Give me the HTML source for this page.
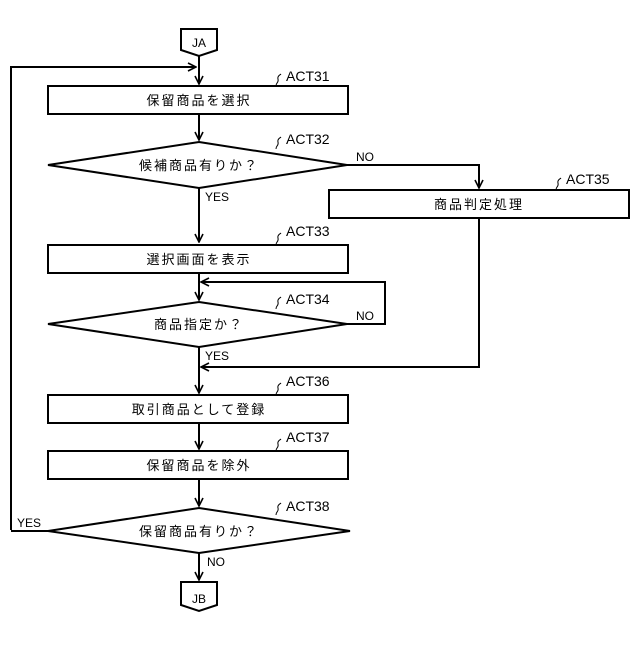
<!DOCTYPE html>
<html><head><meta charset="utf-8"><style>
html,body{margin:0;padding:0;background:#fff}
svg text{font-family:"Liberation Sans","Noto Sans CJK JP",sans-serif;fill:#000}
.j{font-size:13px;letter-spacing:2px}
.a{font-size:14px}
.s{font-size:12px}
</style></head><body>
<svg width="640" height="640" viewBox="0 0 640 640" xmlns="http://www.w3.org/2000/svg">
<defs><marker id="ar" markerWidth="10" markerHeight="10" refX="9" refY="5" orient="auto" markerUnits="userSpaceOnUse"><path d="M1,1 L9,5 L1,9" fill="none" stroke="#000" stroke-width="1.6"/></marker></defs>
<g fill="none" stroke="#000" stroke-width="2">
<path d="M181,29 H217 V50 L199,56 L181,50 Z" fill="#fff"/>
<path d="M199,56 V84" marker-end="url(#ar)"/>
<path d="M11,530 V67 H196" marker-end="url(#ar)"/>
<rect x="48" y="86" width="300" height="28" fill="#fff"/>
<path d="M199,114 V140" marker-end="url(#ar)"/>
<path d="M199,142 L347,165 L199,188 L48,165 Z" fill="#fff"/>
<path d="M347,165 H479 V188" marker-end="url(#ar)"/>
<rect x="329" y="190" width="300" height="28" fill="#fff"/>
<path d="M199,188 V242" marker-end="url(#ar)"/>
<rect x="48" y="245" width="300" height="28" fill="#fff"/>
<path d="M199,273 V300" marker-end="url(#ar)"/>
<path d="M347,324 H385 V282 H201" marker-end="url(#ar)"/>
<path d="M199,302 L347,324 L199,347 L48,324 Z" fill="#fff"/>
<path d="M479,218 V367 H201" marker-end="url(#ar)"/>
<path d="M199,347 V393" marker-end="url(#ar)"/>
<rect x="48" y="395" width="300" height="28" fill="#fff"/>
<path d="M199,423 V449" marker-end="url(#ar)"/>
<rect x="48" y="451" width="300" height="28" fill="#fff"/>
<path d="M199,479 V506" marker-end="url(#ar)"/>
<path d="M199,508 L350,531 L199,553 L48,531 Z" fill="#fff"/>
<path d="M48,531 H11"/>
<path d="M199,553 V580" marker-end="url(#ar)"/>
<path d="M181,582 H217 V605 L199,611 L181,605 Z" fill="#fff"/>
</g>
<g fill="none" stroke="#000" stroke-width="1">
<path d="M276,86 c0,-4 3,-3 2,-7 c-1,-3 2,-4 3,-5"/>
<path d="M276,149 c0,-4 3,-3 2,-7 c-1,-3 2,-4 3,-5"/>
<path d="M556,190 c0,-4 3,-3 2,-7 c-1,-3 2,-4 3,-5"/>
<path d="M276,245 c0,-4 3,-3 2,-7 c-1,-3 2,-4 3,-5"/>
<path d="M276,309 c0,-4 3,-3 2,-7 c-1,-3 2,-4 3,-5"/>
<path d="M276,395 c0,-4 3,-3 2,-7 c-1,-3 2,-4 3,-5"/>
<path d="M276,451 c0,-4 3,-3 2,-7 c-1,-3 2,-4 3,-5"/>
<path d="M276,515 c0,-4 3,-3 2,-7 c-1,-3 2,-4 3,-5"/>
</g>
<text x="199" y="47" class="s" text-anchor="middle">JA</text>
<text x="199" y="603" class="s" text-anchor="middle">JB</text>
<text x="199" y="105" class="j" text-anchor="middle">保留商品を選択</text>
<text x="199" y="170" class="j" text-anchor="middle">候補商品有りか？</text>
<text x="479" y="209" class="j" text-anchor="middle">商品判定処理</text>
<text x="199" y="264" class="j" text-anchor="middle">選択画面を表示</text>
<text x="199" y="329" class="j" text-anchor="middle">商品指定か？</text>
<text x="199" y="414" class="j" text-anchor="middle">取引商品として登録</text>
<text x="199" y="470" class="j" text-anchor="middle">保留商品を除外</text>
<text x="199" y="536" class="j" text-anchor="middle">保留商品有りか？</text>
<text x="286" y="81" class="a">ACT31</text>
<text x="286" y="144" class="a">ACT32</text>
<text x="566" y="184" class="a">ACT35</text>
<text x="286" y="236" class="a">ACT33</text>
<text x="286" y="304" class="a">ACT34</text>
<text x="286" y="386" class="a">ACT36</text>
<text x="286" y="442" class="a">ACT37</text>
<text x="286" y="511" class="a">ACT38</text>
<text x="356" y="161" class="s">NO</text>
<text x="205" y="201" class="s">YES</text>
<text x="356" y="320" class="s">NO</text>
<text x="205" y="360" class="s">YES</text>
<text x="17" y="527" class="s">YES</text>
<text x="207" y="566" class="s">NO</text>
</svg>
</body></html>
